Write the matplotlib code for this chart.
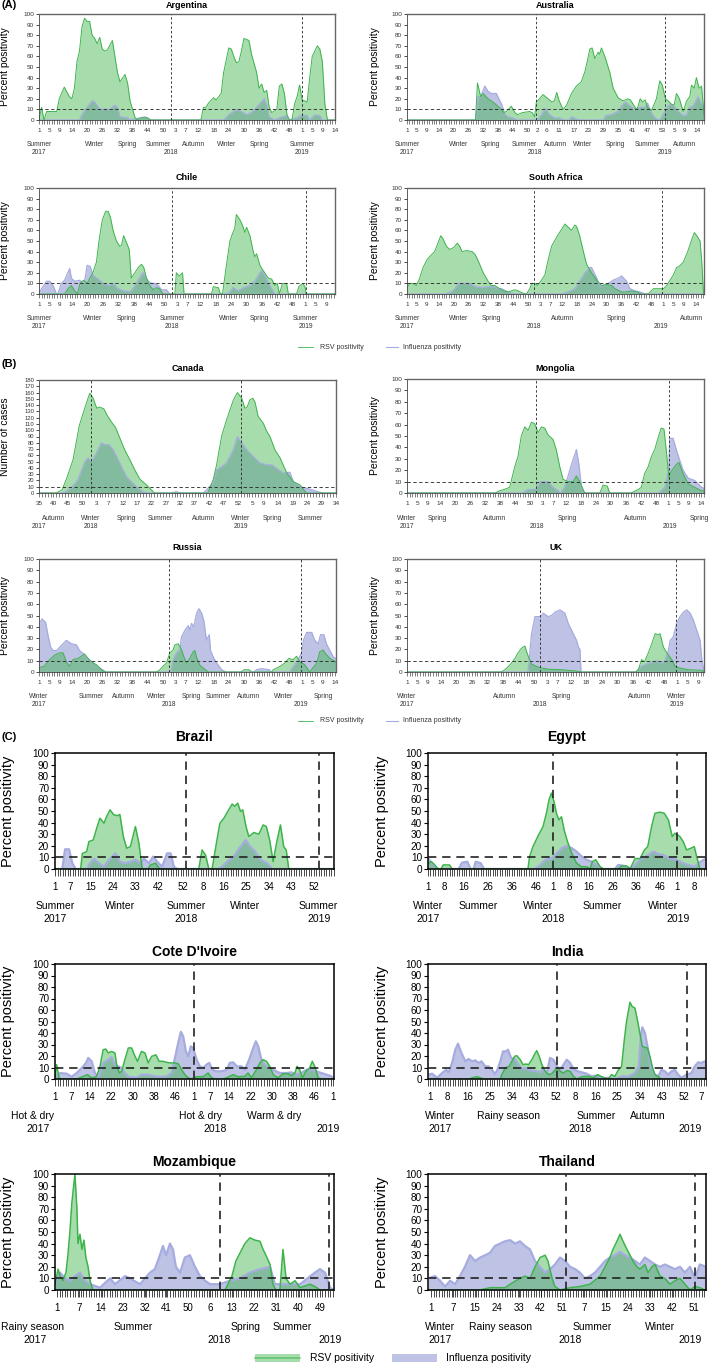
import numpy as np
import matplotlib
matplotlib.use("Agg")
import matplotlib.pyplot as plt
from matplotlib.lines import Line2D
from matplotlib.patches import Rectangle

plt.rcParams['font.family'] = ['Liberation Sans', 'DejaVu Sans']

W, H = 709, 1369

# ----------------------------------------------------------
# data: (week index, percent)
# ----------------------------------------------------------
arg_rsv = [(0,0),(1,12),(2,0),(3,8),(7,8),(8,20),(10,31),(12,22),(13,20),(14,30),(15,55),(16,65),(17,88),(18,96),(19,93),(20,93),(21,80),(22,77),(23,72),(24,78),(25,67),(26,65),(27,66),(29,75),(30,60),(31,45),(32,36),(34,43),(35,35),(36,18),(38,2),(39,0),(40,2),(43,2),(44,0),(64,0),(65,12),(66,12),(67,16),(69,21),(70,19),(72,25),(73,45),(75,68),(76,67),(77,60),(78,54),(79,55),(80,65),(81,77),(83,75),(84,62),(86,45),(87,30),(88,34),(89,26),(90,28),(91,12),(92,7),(94,10),(95,32),(96,34),(97,25),(98,5),(99,0),(100,0),(101,15),(102,22),(103,33),(104,19),(106,17),(107,40),(108,60),(110,70),(111,67),(112,55),(113,15),(114,0),(117,0)]
arg_flu = [(0,0),(16,0),(17,5),(19,12),(21,18),(22,17),(24,10),(28,10),(30,14),(31,12),(32,3),(35,2),(36,0),(40,2),(42,3),(44,0),(73,0),(75,5),(78,10),(80,8),(82,5),(84,7),(86,12),(89,20),(90,14),(91,3),(93,0),(96,3),(98,4),(99,0),(102,2),(104,5),(106,4),(107,0),(109,5),(111,4),(112,0),(117,0)]

aus_rsv = [(0,0),(27.9,0),(28.7,35),(30,22),(31,25),(33,20),(35,17),(37,13),(38.5,10),(39.5,7),(40.5,8),(42.5,13),(44,7),(45,5),(47,7),(50,8),(51,7),(52,3),(52.7,17),(54,20),(55.4,24),(57.5,20),(59,17),(60,18),(61,26),(62,18),(63.6,10),(65,14),(67,25),(69,32),(71,36),(72.4,45),(73.4,55),(74.5,67),(75.4,68),(76.5,58),(77.9,64),(78.5,62),(79.2,68),(80.6,60),(82.6,45),(84,30),(86,21),(88,18),(90,20),(91,19),(93.5,10),(94,12),(95,20),(96,17),(97,19),(98,12),(99.6,9),(101.6,20),(103,37),(104,33),(105.3,20),(106.4,18),(107.7,15),(108.8,14),(109.8,25),(111,20),(112.5,8),(113.9,18),(115.2,22),(115.9,33),(117,30),(117.9,40),(119,30),(120,32),(121,5)]
aus_flu = [(0,0),(28,0),(29,22),(30,22),(31.7,32),(33,27),(34.4,25),(36.4,25),(38.5,15),(39.8,6),(41,3),(43,2),(45,0),(53,0),(54.8,5),(56.4,11),(58,5),(60,2),(62,2),(64,0),(66,0),(67,3),(70,0),(80,0),(81,4),(83,5),(86,8),(88,15),(89,17),(91,13),(93,10),(95,12),(97,12),(98,16),(99,10),(100,5),(101.6,1),(103,0),(105,8),(107,15),(108.8,13),(110.5,8),(112.5,4),(114,5),(115,12),(116.5,13),(118.6,22),(120,15),(121,12)]

chl_rsv = [(0,0),(10,0),(11.3,5),(12.6,8),(14,3),(15,0),(16,10),(17.4,13),(18.8,10),(19.8,15),(21,20),(22.4,30),(23.4,50),(24.7,70),(26,78),(27,78),(27.9,72),(28.9,60),(30.2,50),(31.5,45),(32.2,46),(33,55),(33.9,50),(35.2,42),(36,15),(37.4,20),(38.7,25),(40,28),(40.9,25),(41.9,15),(43.2,8),(44.5,4),(45.8,6),(47,5),(48.4,0),(53,0),(53.6,20),(54.7,17),(56,20),(56.6,0),(67.3,0),(68,7),(70,6),(70.8,0),(71.6,0),(73,25),(74.5,50),(75.5,57),(76.4,62),(77,75),(78.4,70),(79.4,65),(80.3,58),(81,63),(82.3,55),(83.6,40),(84.2,35),(84.9,38),(86.2,27),(87.5,22),(89.5,15),(90.8,14),(92,8),(93,10),(93.8,0),(95,10),(96.6,10),(97.3,0),(100.5,0),(101.4,7),(102.9,10),(103.8,7),(104.2,0),(115.5,0)]
chl_flu = [(0,0),(1,5),(2.9,12),(4.2,12),(5.5,8),(6.8,0),(7.4,0),(8.7,10),(10,13),(10.7,17),(12,24),(12.6,15),(13.9,12),(15.9,13),(17.2,10),(17.8,12),(18.8,27),(20,26),(21,18),(22.4,15),(23.7,13),(25,10),(27,8),(28.9,10),(30.9,5),(32.8,3),(35.4,2),(36.7,5),(38,10),(40,18),(40.6,20),(42.6,12),(43.9,10),(45.2,10),(46.5,8),(47.8,4),(49.7,4),(51,0),(73,0),(74.5,2),(75.8,6),(77.7,3),(79.7,6),(82.3,8),(84.2,12),(86.2,20),(86.9,22),(88.2,17),(89.5,10),(90.8,5),(92,0),(115.5,0)]

saf_rsv = [(0,5),(1,10),(2.4,10),(3.8,8),(5,14),(6.5,25),(8.3,33),(9.9,37),(11.2,40),(13.7,55),(14.6,52),(16,45),(17.3,42),(19,44),(20.4,48),(21.4,45),(22.3,40),(24,41),(26.4,40),(27.7,37),(29.1,30),(30.9,20),(32.9,12),(34.2,8),(35.6,8),(37.6,5),(39,3),(41,2),(42.3,3),(43.7,4),(45,3),(47.8,0),(48.4,0),(49.8,5),(50.5,10),(51.8,10),(52.9,8),(54.5,13),(55.9,18),(57,30),(58.6,45),(61,55),(62.4,60),(64,66),(65.4,63),(66.7,60),(68,65),(68.7,64),(70,55),(71.5,40),(72.8,28),(74.8,20),(76.9,13),(78.9,8),(80.9,9),(83,8),(84.3,5),(87,2),(89,2),(91,3),(93,2),(95,0),(97.8,0),(99.9,5),(104,5),(105.3,8),(108,18),(109.3,25),(110.3,26),(112,30),(113.8,40),(115.2,50),(116.5,58),(117.5,55),(118.8,50),(119.5,30),(120.2,0)]
saf_flu = [(0,0),(15.3,0),(18,2),(19.4,5),(20.7,10),(23.4,10),(25.4,10),(27.5,7),(30.2,6),(32.9,7),(34.9,7),(36.9,5),(38.3,5),(41,2),(43.7,0),(62.6,0),(65.4,2),(68,5),(69.4,10),(72.1,20),(74.2,25),(74.8,25),(76.9,15),(78.2,7),(81.6,10),(83.6,13),(85.7,15),(87,17),(89,12),(90.4,5),(92.4,3),(94.4,2),(96.5,0),(120.4,0)]

can_rsv = [(0,0),(6,0),(8,5),(9.5,22),(11.8,53),(14,108),(16,137),(17.6,159),(18.8,151),(20,135),(21,137),(22.5,134),(23.6,124),(25,114),(26.6,104),(28,88),(29.7,69),(31.5,53),(33.2,37),(35,22),(37,14),(39,5),(40,0),(58.5,0),(60.4,21),(61.6,45),(63.3,90),(65,116),(67.4,148),(68.8,160),(70.3,151),(71.4,135),(72.2,137),(73.1,148),(74.1,151),(74.9,145),(76,122),(77.8,111),(79,98),(80.1,90),(81.8,69),(83.6,56),(85.9,32),(88.2,18),(90.5,13),(92.2,3),(92.8,0),(103,0)]
can_flu = [(0,0),(8,0),(9.5,3),(11.5,10),(13.5,21),(15.9,50),(17,56),(18.2,50),(19.9,64),(21.6,80),(22.8,77),(24.3,77),(25.7,69),(26.9,58),(28.6,42),(30.3,26),(32,18),(33.8,10),(36,2),(38,0),(46,0),(47.5,2),(49,0),(57,0),(58.1,5),(60.4,16),(61.6,37),(63.3,42),(65,48),(67.4,69),(68.8,90),(70.3,80),(72,69),(74.3,58),(76.6,48),(78.9,45),(80.7,45),(83,37),(84.7,32),(87,33),(88.2,18),(90.5,10),(94,6),(97.5,1),(98.6,0),(103,0)]

mng_rsv = [(0,0),(35,0),(36.8,2),(38.5,3),(40.8,5),(42.8,23),(44.1,32),(45.4,50),(46.8,58),(48.1,55),(49.4,62),(50.7,61),(52.1,53),(53.4,58),(54.7,57),(56,51),(58,47),(59.3,38),(60.7,23),(62,12),(64,10),(66,10),(67.3,15),(68.6,10),(70.6,0),(76.6,0),(77.9,7),(79.6,6),(80.5,0),(89,0),(91.8,3),(93.1,5),(94.4,17),(95.8,23),(97.1,32),(98.4,38),(99.7,48),(101,57),(102.1,56),(103,38),(104,14),(105,19),(107,25),(108,27),(109.7,17),(111.7,8),(114.3,5),(117,2),(118,2)]
mng_flu = [(0,0),(46,0),(48,3),(51,3),(53,10),(56,10),(58,5),(60,2),(61,0),(62.6,5),(64,15),(65.5,26),(67.3,38),(68.3,25),(69.3,5),(70.5,0),(100,0),(102.4,5),(104,20),(104.4,48),(105.7,48),(107,38),(108.3,29),(109.7,20),(111.7,13),(114.3,11),(117,5),(118,4)]

rus_rsv = [(0,4),(2,5),(4.2,11),(6.2,15),(8.2,17),(9.5,17),(10.8,9),(12.1,5),(13.5,11),(15.4,12),(17.4,15),(18,16),(19.4,12),(21.4,8),(22.7,6.5),(24.7,2),(26,0),(46.4,0),(47.8,2),(49,5),(50.4,8),(51.7,17),(53,19.5),(53.7,24),(55,25),(56.3,20),(57,15),(58.3,8),(59.6,12),(61,18),(61.6,19),(62.3,13),(63.6,6),(64.9,3.5),(66.9,0),(80,0),(81,2),(83,2),(84,0),(92,0),(92.6,2),(95.3,5),(97.2,8),(98.7,12),(100.5,11),(101.8,14),(103.2,9),(105,6.5),(107,0),(109.8,8),(111,18),(112.4,19.5),(113,17),(115,12),(117.4,9)]
rus_flu = [(0,42),(1.2,47),(2.6,44),(3.6,32),(4.6,22),(5.5,19),(7,19),(8.2,22),(10.8,28),(12.8,25),(14.8,24),(16,19),(17.4,16.5),(19.4,11),(21.4,8),(24,3.5),(26.6,0),(52,0),(53,11),(54.4,17),(55.7,20),(56.3,31),(57.7,37),(59,41),(59.7,37),(60.3,43),(61.2,40),(62.3,52),(63.2,56),(64.3,52),(65.2,45),(66.2,28),(67.3,33),(67.8,19),(68.9,13),(70.2,8),(72.2,2),(74,0),(85,0),(86,2),(88,3),(91,2),(92,0),(99,0),(100.5,5),(102.5,11),(103.8,17),(104.5,28),(105.8,35),(107.8,35),(109,28),(110.4,25),(111.3,33),(112.6,33),(113.6,25),(115,19),(116.4,13),(117.4,12)]

uk_rsv = [(0,0),(36.3,0),(37.6,2),(39.5,6),(41.5,12),(42.7,17),(44,21),(45.3,23),(46.6,14),(47.9,7),(49.8,5),(51.7,3.5),(54.3,2.5),(59.4,2),(64.6,1),(67,0),(88,0),(89,2),(90.2,11),(91.3,9),(92.8,17),(94.1,25),(95.4,34),(96.7,33),(97.3,34),(98.6,22),(99.9,17),(101.8,11),(103.1,5),(105,3.5),(108.2,2),(113.4,1.5),(114.2,0)]
uk_flu = [(0,0),(46.5,0),(47.9,34),(49.2,49),(51.1,49),(52.4,52),(54.3,49),(55.6,50),(56.9,53),(58.8,55),(60.7,52),(62,43),(63.9,34),(65.2,28),(65.9,22),(66.5,20),(66.9,0),(88,0),(90,5),(93,8),(96,10),(98,8),(99.2,10),(100.5,19),(101.2,28),(102.4,31),(103.7,43),(105,49),(106.3,53),(107.6,55),(108.9,52),(110.1,46),(111.4,37),(112.7,28),(113.4,10),(114.2,0)]

bra_rsv = [(0,0),(10.2,0),(10.9,13.5),(12.6,15),(13.5,23.6),(15.2,25),(16.8,36.6),(17.9,43.8),(19.5,39.5),(20.5,45),(21.9,51),(23.4,46.7),(24.8,46),(25.8,47),(27.2,28),(28.5,17.9),(30,19.3),(32,36.6),(33.4,22),(34.7,0),(37,0),(38,3.5),(40,5),(41.7,0),(57.2,0),(58.5,16.4),(59.9,12),(61.2,0),(62.5,0),(64.2,22),(65.6,39.5),(67.2,43.8),(69.1,51),(70.5,56),(71.5,54),(72.7,56.8),(73.8,49.6),(74.7,51),(76,36.6),(77.1,28),(79.1,31.4),(81.1,30),(82.8,38),(84.1,36.6),(85.4,25),(86.8,6.3),(88.1,22),(89.7,38),(91,19.3),(92,16.4),(93,0),(111,0)]
bra_flu = [(0,0),(2.9,0),(4,17),(5.6,17),(6.9,5),(8.2,0),(13,0),(13.5,3.5),(15.5,9),(17.5,5),(19.5,2),(21.5,8),(24.1,13.5),(25.8,6.3),(28.1,5),(30,6.3),(32,8),(34,5),(35.4,9),(37.4,5),(39,10.7),(40.7,6.3),(42.6,2),(44.6,13.5),(46,13.5),(47.3,2),(48.6,0),(65,0),(66.5,2),(68.5,6.3),(71.1,10.7),(73.8,19.3),(75.8,25),(77.7,19.3),(79.7,15),(81.7,8),(84.4,5),(86.4,0),(111,0)]

egy_rsv = [(0,5),(1.4,6.3),(2.8,3.5),(4.2,0),(5.5,0),(6.3,3.5),(9,3.5),(10.1,0),(41.7,0),(42.4,10.7),(43.8,19.3),(45.8,28),(48,36.6),(49.4,48),(50.5,59.7),(51.5,65.4),(52.6,58),(53.6,48),(54.6,42.4),(55.7,45),(56.8,33.7),(58.2,23.6),(60,13.5),(62,5),(64,2),(66.2,2),(67.6,0),(68.6,6.3),(70,8),(71.8,2),(73.2,0),(79.4,0),(80.8,2.6),(82.9,2.6),(84.3,0),(86.4,9),(88.5,9),(90.3,16.4),(91.7,19.3),(93.3,36.6),(94.7,48),(96.8,49),(98.6,48),(100.3,42.4),(101.9,28),(103,30.8),(104.2,29.4),(105.1,28),(106.5,23.6),(107.9,16.4),(109.7,17.9),(111.1,19.3),(112.1,10.7),(113.5,0),(116.5,0)]
egy_flu = [(0,9),(2.4,3.5),(3.8,0),(12.8,0),(14.2,5.5),(16.4,6.3),(17.8,0),(19,0),(19.9,6.3),(22,5),(23.4,0),(44.7,0),(46.8,3.5),(48.9,7.8),(51.7,9),(53.8,13.5),(55.8,17.9),(57.9,20),(60,18),(62,15),(64.2,10.7),(66.3,7.8),(68.3,6.3),(70.4,3.5),(72.5,0),(78,0),(79.4,3.5),(82.2,2.6),(84.9,0),(87,5),(89.2,9),(92,12),(94,15),(96.1,13),(98.2,12),(101,9),(103.8,7.8),(106.5,5),(108.6,3.5),(111.4,2),(112.8,5),(114.9,7.8),(116.5,9)]

cdi_rsv = [(0,0),(0.6,12.5),(1.5,1),(2.5,0),(8.1,0),(10.6,2.3),(12.1,3.8),(13.7,1),(15.5,2),(16.8,11),(18,25.5),(19,26),(19.9,22.6),(21.1,24),(22.4,22.6),(23,12.5),(24,5.2),(24.9,6.7),(26.1,16.8),(27.4,27),(28.6,27),(29.9,19.7),(30.8,15.4),(32.3,24),(33.6,22.6),(34.8,14),(36.1,19.7),(37.7,21),(38.9,15.4),(40.4,15.4),(41.7,14.5),(42.9,14),(44.4,14),(46,13.3),(47.3,8),(48.5,3.8),(49.8,1),(51,0),(52.9,2),(55.3,2),(57.2,5.2),(58.5,1),(59.7,0),(62.8,0),(64.1,1),(66.5,3.8),(68.4,2),(70.9,2.3),(72.1,5.2),(73.4,1),(75.2,8),(76.5,14),(77.7,16.8),(79,15.4),(80.2,11),(81.5,3.8),(83.3,1),(85.2,4.6),(87.1,4.6),(88.3,3),(89.6,5.2),(90.4,11),(91.4,8),(92.4,1),(93.7,6.7),(95.1,9.6),(96.1,15.4),(97,11),(98.3,1),(99.5,0),(104.2,0)]
cdi_flu = [(0,1),(1.9,5.2),(4.4,4.6),(6.2,2),(8.1,5.2),(10,9.6),(11.6,14),(12.4,18.3),(13.7,15.4),(14.9,5.2),(16.2,1),(18,14),(19.9,16.8),(21.1,19),(22.4,12.5),(23.6,11),(24.9,9.6),(26.1,5.2),(27.4,2),(30.5,1),(32.3,3.8),(34.8,3.8),(37.3,2.3),(39.8,2),(41.7,2.3),(43.5,5.2),(44.8,18.3),(46,31.3),(47,41),(47.9,37),(48.9,24),(49.8,19.7),(50.7,28.4),(51.6,27),(52.9,16.8),(54.1,11),(55.3,9.6),(56.6,12.5),(57.6,14),(58.8,8),(60.3,6.7),(62.2,6.7),(64.1,8),(65.3,14),(66.5,14.5),(68,11),(69.7,11),(70.9,8),(72.5,16.8),(73.8,25.5),(75,32.8),(75.9,28.4),(77.1,16.8),(78.4,12.5),(80,9.6),(81.5,8),(84,5.2),(86.4,5.2),(88.3,5.8),(90.2,3.8),(92,5.2),(93.9,8),(95.8,8),(97.6,6.7),(99.5,5.2),(101.4,3.8),(103.2,2.3),(104.2,0)]

ind_rsv = [(-1,0),(16,0),(16.9,1),(18.9,2),(20.3,1),(21.6,0),(28.4,0),(29,3.8),(30.4,9.6),(32,11),(33.1,15.4),(34.2,19.7),(35.1,20.3),(36.5,16.8),(37.6,12.5),(38.8,13),(39.9,12.5),(41.2,16.8),(42.6,22.6),(43.2,24.6),(44.2,19.7),(45.3,12.5),(46.6,6.7),(48,3.8),(49.3,4.6),(50.7,8),(51.8,9.6),(52.7,6.7),(54.1,5.2),(55.4,7.2),(56.8,6.7),(58.1,2.3),(59.5,0),(61.5,2),(63.5,2.3),(64.9,2),(66.2,1),(68,3.8),(69.3,2.3),(70.7,1),(72.3,0),(73.6,3.8),(75,2.3),(76.4,8),(77.7,11),(78.8,34),(79.7,50),(81.1,66.7),(82,63),(83.1,61.7),(84.1,51.6),(85.1,40),(86.1,28.4),(87.2,27.5),(88.2,27),(89.2,19.7),(90.3,9.6),(91.2,3.8),(92.6,2),(93.6,0),(112,0)]
ind_flu = [(-1,3.8),(0.7,4.6),(2.7,1),(4.7,5.2),(6.4,8),(7.4,5.8),(8.8,14),(10.1,25.5),(11.2,30.7),(12.6,22.6),(14.2,15.4),(15.5,17.4),(16.9,15.4),(18.2,16.2),(19.6,14),(20.7,15.4),(22.3,11),(23.6,11),(25,8),(26.1,4.6),(27,6.7),(28.4,15.4),(29.5,24),(30.7,24),(31.5,25.5),(32.8,18.3),(34.2,17.4),(35.5,13.3),(37.2,8.7),(38.5,9.6),(39.9,8),(41.2,7.2),(43.2,6.7),(44.6,5.8),(45.9,8.7),(47.3,5.2),(48.6,18.3),(50,16.8),(51.4,11),(52.7,8),(54.1,12.5),(55.4,16.8),(56.8,14),(58.1,8.7),(59.9,6.7),(61.5,5.8),(63.5,4.6),(65.5,2.3),(67.6,3),(69.6,1),(72.3,1),(75,0),(77.7,2.3),(80.4,2.3),(83.1,5.2),(84.7,11),(85.5,37),(86.1,45),(87.2,40),(88.2,28.4),(89.6,11),(91.2,3.8),(92.6,2.3),(93.9,8),(95.3,6.7),(96.6,3.8),(98,6.7),(99.3,8),(100.7,3.8),(102,1),(104.1,3.8),(106.1,5.2),(107.4,11),(108.8,14.5),(110.1,14),(111.5,15.4),(112,15)]

# Mozambique / Thailand: x in tick-label units
moz_rsv = [(-0.09,5),(0.05,18),(0.14,12),(0.27,8),(0.41,15),(0.5,30),(0.59,50),(0.68,75),(0.82,100),(0.91,70),(0.96,40),(1.05,48),(1.14,35),(1.23,43),(1.32,28),(1.42,20),(1.51,8),(1.64,0),(7.67,0),(7.81,5),(7.99,12),(8.17,25),(8.36,32),(8.58,40),(8.81,45),(9.04,43),(9.27,42),(9.41,35),(9.54,30),(9.73,22),(9.86,5),(10,0),(10.18,0),(10.32,35),(10.46,10),(10.64,5),(10.87,8),(11.1,2),(11.55,5),(11.78,3),(12.01,0),(12.65,0)]
moz_flu = [(-0.09,5),(0.14,15),(0.37,10),(0.59,8),(0.82,12),(1.05,15),(1.28,8),(1.51,5),(1.96,2),(2.42,10),(2.65,5),(3.11,12),(3.33,10),(3.79,5),(4.25,15),(4.47,18),(4.7,30),(4.84,38),(4.98,30),(5.16,40),(5.3,35),(5.43,20),(5.62,15),(5.84,28),(6.07,30),(6.3,20),(6.53,12),(6.76,8),(6.99,5),(7.44,5),(7.9,8),(8.36,10),(8.81,15),(9.27,18),(9.73,20),(9.95,5),(10.64,5),(11.1,5),(11.78,15),(12.01,18),(12.24,15),(12.47,2),(12.65,0)]
tha_rsv = [(-0.14,0),(2.24,0),(2.69,2),(3.38,2),(3.61,5),(4.06,10),(4.29,12),(4.52,10),(4.75,20),(4.98,28),(5.21,30),(5.34,25),(5.53,10),(5.66,3),(5.89,0),(6.35,2),(6.8,3),(7.26,5),(7.72,12),(7.95,20),(8.17,28),(8.31,35),(8.49,42),(8.63,48),(8.77,42),(8.95,35),(9.09,30),(9.22,25),(9.41,20),(9.54,18),(9.77,22),(9.91,15),(10.09,20),(10.23,22),(10.46,12),(10.68,10),(10.91,5),(11.14,8),(11.37,10),(11.6,5),(11.83,0),(12.05,3),(12.28,2),(12.51,0)]
tha_flu = [(-0.14,10),(0.18,12),(0.41,8),(0.64,3),(0.87,8),(1.1,5),(1.32,12),(1.55,20),(1.78,30),(2.01,25),(2.24,28),(2.47,30),(2.69,32),(2.92,38),(3.15,40),(3.38,42),(3.61,43),(3.84,40),(4.06,42),(4.29,38),(4.52,35),(4.75,25),(4.98,20),(5.21,15),(5.43,18),(5.66,22),(5.89,28),(6.12,25),(6.35,20),(6.58,18),(6.8,15),(7.03,10),(7.26,12),(7.49,15),(7.72,20),(7.95,25),(8.17,28),(8.4,30),(8.63,33),(8.86,30),(9.09,28),(9.32,25),(9.54,22),(9.77,28),(10,25),(10.23,22),(10.46,20),(10.68,22),(10.91,20),(11.14,18),(11.37,20),(11.6,15),(11.83,20),(12.05,10),(12.28,22),(12.56,20)]

# tick labels (epi weeks)
wk_a = [1,5,9,14,20,26,32,38,44,50,3,7,12,18,24,30,36,42,48,1,5,9,14]
wk_aus = [1,5,9,14,20,26,32,38,44,50,2,6,11,17,23,29,35,41,47,53,5,9,14]
wk_chl = [1,5,9,14,20,26,32,38,44,50,3,7,12,18,24,30,36,42,48,1,5,9]
wk_can = [35,40,45,50,3,7,12,17,22,27,32,37,42,47,52,5,9,14,19,24,29,34]
wk_bra = [1,7,15,24,33,42,52,8,16,25,34,43,52]
wk_egy = [1,8,16,26,36,46,1,8,16,26,36,46,1,8]
wk_cdi = [1,7,14,22,30,38,46,1,7,14,22,30,38,46,1]
wk_ind = [1,8,16,25,34,43,52,8,16,25,34,43,52,7]
wk_moz = [1,7,14,23,32,41,50,6,13,22,31,40,49]
wk_tha = [1,7,15,24,33,42,51,7,15,24,33,42,51]

# season / year captions under each axis
sea_arg = [("Summer",0),("Winter",22),("Spring",35),("Summer",47),("Autumn",61),("Winter",74),("Spring",87),("Summer",104)]
sea_aus = [("Summer",0),("Winter",21),("Spring",34),("Summer",48),("Autumn",60.5),("Winter",71.5),("Spring",85),("Summer",98),("Autumn",113)]
sea_chl = [("Summer",0),("Winter",21),("Spring",34),("Summer",52),("Winter",74),("Spring",86),("Summer",104)]
sea_saf = [("Summer",0),("Winter",21),("Spring",34),("Autumn",63),("Spring",85),("Autumn",115.5)]
sea_can = [("Autumn",4.9),("Winter",18),("Spring",30.3),("Summer",42),("Autumn",57),("Winter",70),("Spring",81),("Summer",94)]
sea_mng = [("Winter",0),("Spring",12),("Autumn",34.6),("Spring",63.6),("Autumn",90.7),("Spring",116.3)]
sea_rus = [("Winter",0),("Summer",20.7),("Autumn",33.5),("Winter",46.4),("Spring",60.3),("Summer",70.8),("Autumn",82.7),("Winter",96.8),("Spring",112.4)]
sea_uk = [("Winter",0),("Autumn",37.6),("Spring",59.2),("Autumn",89.6),("Winter",103.7)]
sea_bra = [("Summer",0),("Winter",25.8),("Summer",52.2),("Winter",75.4),("Summer",104.9)]
sea_egy = [("Winter",0),("Summer",20.8),("Winter",46.1),("Summer",72.5),("Winter",98.2)]
sea_cdi = [("Hot & dry",-8.2),("Hot & dry",54.5),("Warm & dry",81.7)]
sea_ind = [("Winter",4),("Rainy season",31.6),("Summer",67.3),("Autumn",88.4)]
sea_moz = [("Rainy season",-1.1),("Summer",3.47),("Spring",8.63),("Summer",10.73)]
sea_tha = [("Winter",0.41),("Rainy season",3.15),("Summer",7.35),("Winter",10.46)]

yr_arg = [("2017",0),("2018",52),("2019",104)]
yr_aus = [("2017",0),("2018",52),("2019",105)]
yr_saf = [("2017",0),("2018",51.5),("2019",103)]
yr_can = [("2017",0),("2018",18),("2019",70)]
yr_mng = [("2017",0),("2018",51.8),("2019",104.4)]
yr_rus = [("2017",0),("2018",51.3),("2019",103.6)]
yr_uk = [("2017",0),("2018",51.1),("2019",103.7)]
yr_bra = [("2017",0),("2018",52.2),("2019",104.9)]
yr_egy = [("2017",0),("2018",52.2),("2019",104.4)]
yr_cdi = [("2017",-6.3),("2018",59.7),("2019",101.9)]
yr_ind = [("2017",4),("2018",60.8),("2019",105.4)]
yr_moz = [("2017",-1),("2018",7.4),("2019",12.47)]
yr_tha = [("2017",0.41),("2018",6.35),("2019",11.83)]

GREEN = '#3cb44b'
BLUE = '#7f87cc'
BLUE_LINE = '#a6acdf'

fig = plt.figure(figsize=(W / 100, H / 100), dpi=100)


def week_pos(labels):
    pos, cur = [0], 0
    for a, b in zip(labels[:-1], labels[1:]):
        cur += b - a if b > a else max(52, a) - a + b
        pos.append(cur)
    return pos


def panel(rect, title, title_y, ylab_x, rsv, flu, labels, ticks, xlim, vlines,
          seasons, years, big=False, ymax=100, ylabel='Percent positivity', comb=1.0):
    l, t, r, b = rect
    ax = fig.add_axes([l / W, 1 - b / H, (r - l) / W, (b - t) / H])
    h = b - t
    if big:
        lw_g, lw_b, lw_ref, dash = 1.1, 1.6, 1.2, (0, (5, 3.5))
        fs_tick, fs_title, fs_ylab, fs_sea = 7, 10, 10.5, 7.5
        off_sea, off_yr = 37, 50
    else:
        lw_g, lw_b, lw_ref, dash = 0.7, 0.9, 0.6, (0, (4, 3))
        fs_tick, fs_title, fs_ylab, fs_sea = 4.6, 6.5, 7.5, 4.8
        off_sea, off_yr = 25, 33

    fx, fy = zip(*flu)
    gx, gy = zip(*rsv)
    ax.fill_between(fx, fy, 0, color=BLUE, alpha=0.5, lw=0)
    ax.plot(fx, fy, color=BLUE_LINE, lw=lw_b)
    ax.fill_between(gx, gy, 0, color=GREEN, alpha=0.45, lw=0)
    ax.plot(gx, gy, color=GREEN, lw=lw_g)

    ax.axhline(10, color='#222222', lw=lw_ref, ls=dash, zorder=5)
    for v in vlines:
        ax.axvline(v, color='#222222', lw=lw_ref, ls=(0, (3, 2.5)) if not big else dash, zorder=5)

    ax.set_xlim(*xlim)
    ax.set_ylim(0, ymax)
    ax.set_xticks(ticks)
    ax.set_xticklabels([str(w) for w in labels])
    ax.set_xticks(np.arange(np.ceil(xlim[0]), xlim[1] + 1e-6, comb), minor=True)
    ax.set_yticks(np.arange(0, ymax + 1, 10))

    if big:
        ax.tick_params(axis='x', which='both', length=4.8, width=0.5, pad=4.6,
                       labelsize=fs_tick, color='black')
        ax.tick_params(axis='y', length=3, width=0.8, pad=1.2, labelsize=7.2)
        for sp in ax.spines.values():
            sp.set_linewidth(1.1)
            sp.set_color('black')
    else:
        ax.tick_params(axis='x', which='both', length=2.8, width=0.45, pad=2.8,
                       labelsize=fs_tick, color='#333333', labelcolor='#333333')
        ax.tick_params(axis='y', length=2, width=0.5, pad=1.5,
                       labelsize=4.2 if ymax > 100 else fs_tick, labelcolor='#333333')
        for k, sp in ax.spines.items():
            sp.set_linewidth(0.6 if k in ('left', 'bottom') else 1.0)
            sp.set_color('#444444' if k in ('left', 'bottom') else '#666666')

    tr = ax.get_xaxis_transform()
    for txt, x in seasons:
        ax.text(x, -off_sea / h, txt, transform=tr, ha='center', va='center',
                fontsize=fs_sea, color='#333333' if not big else 'black', clip_on=False)
    for txt, x in years:
        ax.text(x, -off_yr / h, txt, transform=tr, ha='center', va='center',
                fontsize=fs_sea, color='#333333' if not big else 'black', clip_on=False)

    fig.text((l + r) / 2 / W, 1 - title_y / H, title, ha='center', va='center',
             fontsize=fs_title, fontweight='bold')
    fig.text(ylab_x / W, 1 - (t + b) / 2 / H, ylabel, rotation=90, ha='center',
             va='center', fontsize=fs_ylab)
    return ax


# ----------------------------------------------------------
# (A)
# ----------------------------------------------------------
panel((39, 14, 335, 120), "Argentina", 5, 5, arg_rsv, arg_flu, wk_a, week_pos(wk_a),
      (0, 117), [52, 104], sea_arg, yr_arg)
panel((407, 14, 704, 120), "Australia", 5, 375, aus_rsv, aus_flu, wk_aus, week_pos(wk_aus),
      (0, 121), [52.7, 105], sea_aus, yr_aus)
panel((39, 188, 335, 294), "Chile", 177, 5, chl_rsv, chl_flu, wk_chl, week_pos(wk_chl),
      (0, 115.5), [52, 104], sea_chl, yr_arg)
panel((407, 188, 704, 294), "South Africa", 177, 375, saf_rsv, saf_flu, wk_a, week_pos(wk_a),
      (0, 120.4), [51.4, 103.5], sea_saf, yr_saf)

# ----------------------------------------------------------
# (B)
# ----------------------------------------------------------
panel((39, 380, 336, 493), "Canada", 369, 5, can_rsv, can_flu, wk_can, week_pos(wk_can),
      (0, 103), [18, 70], sea_can, yr_can, ymax=180, ylabel='Number of cases')
panel((407, 379, 704, 493), "Mongolia", 369, 375, mng_rsv, mng_flu, wk_a, week_pos(wk_a),
      (0, 118), [51.4, 104], sea_mng, yr_mng)
panel((39, 559, 336, 672), "Russia", 548, 5, rus_rsv, rus_flu, wk_a, week_pos(wk_a),
      (0, 117.4), [51.3, 103.6], sea_rus, yr_rus)
panel((407, 559, 704, 672), "UK", 548, 375, uk_rsv, uk_flu, wk_chl, week_pos(wk_chl),
      (0, 114.2), [51.3, 103.3], sea_uk, yr_uk)

# ----------------------------------------------------------
# (C)
# ----------------------------------------------------------
panel((55, 753, 334, 869), "Brazil", 737, 8, bra_rsv, bra_flu, wk_bra, week_pos(wk_bra),
      (0, 111), [52.2, 105.2], sea_bra, yr_bra, big=True)
panel((428, 753, 706, 869), "Egypt", 737, 382, egy_rsv, egy_flu, wk_egy, week_pos(wk_egy),
      (0, 116), [52, 104], sea_egy, yr_egy, big=True)
panel((55, 964, 334, 1079), "Cote D'Ivoire", 952, 8, cdi_rsv, cdi_flu, wk_cdi, week_pos(wk_cdi),
      (0, 104.2), [52], sea_cdi, yr_cdi, big=True)
panel((428, 964, 706, 1079), "India", 952, 382, ind_rsv, ind_flu, wk_ind, week_pos(wk_ind),
      (-1, 112), [51.4, 104.3], sea_ind, yr_ind, big=True)
panel((55, 1174, 334, 1290), "Mozambique", 1162, 8, moz_rsv, moz_flu, wk_moz, list(range(13)),
      (-0.09, 12.65), [7.44, 12.4], sea_moz, yr_moz, big=True, comb=0.12)
panel((428, 1174, 706, 1290), "Thailand", 1162, 382, tha_rsv, tha_flu, wk_tha, list(range(13)),
      (-0.14, 12.56), [6.16, 12.05], sea_tha, yr_tha, big=True, comb=0.12)

# section letters
for txt, y in [("(A)", 5), ("(B)", 364), ("(C)", 737)]:
    fig.text(2 / W, 1 - y / H, txt, fontsize=8, fontweight='bold', va='center', ha='left')

# small legends for (A) and (B)
for y in (347, 721):
    fig.add_artist(Line2D([298 / W, 313 / W], [1 - y / H] * 2, color=GREEN, lw=0.6))
    fig.text(320 / W, 1 - y / H, 'RSV positivity', fontsize=5, va='center', color='#333333')
    fig.add_artist(Line2D([386 / W, 398 / W], [1 - y / H] * 2, color=BLUE_LINE, lw=0.8))
    fig.text(403 / W, 1 - y / H, 'Influenza positivity', fontsize=5, va='center', color='#333333')

# legend for (C)
yl = 1358
fig.add_artist(Rectangle((255 / W, 1 - (yl + 4) / H), 45 / W, 8 / H, facecolor=GREEN,
                         alpha=0.45, edgecolor='none'))
fig.add_artist(Line2D([255 / W, 300 / W], [1 - yl / H] * 2, color=GREEN, lw=1.2, alpha=0.6))
fig.text(310 / W, 1 - yl / H, 'RSV positivity', fontsize=7.5, va='center')
fig.add_artist(Rectangle((392 / W, 1 - (yl + 4) / H), 45 / W, 8 / H, facecolor=BLUE,
                         alpha=0.5, edgecolor='none'))
fig.text(446 / W, 1 - yl / H, 'Influenza positivity', fontsize=7.5, va='center')

fig.savefig('out.png', dpi=100)
